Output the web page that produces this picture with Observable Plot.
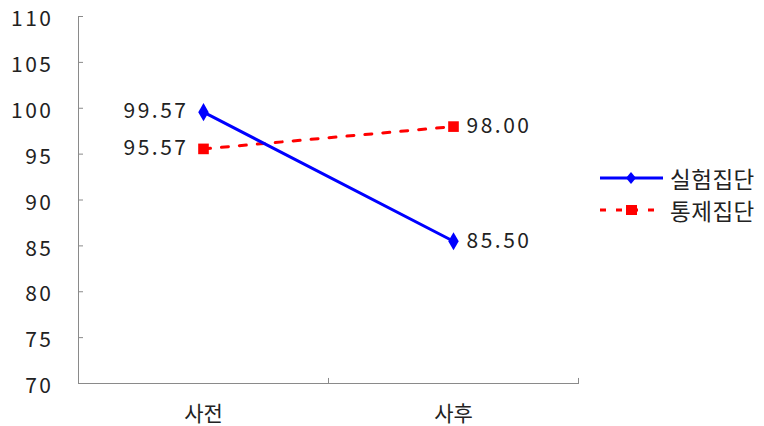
<!DOCTYPE html>
<html><head><meta charset="utf-8">
<script src="https://cdn.jsdelivr.net/npm/d3@7"></script>
<script src="https://cdn.jsdelivr.net/npm/@observablehq/plot@0.6"></script>
<style>
body{margin:0;background:#fff;}
#wrap{position:relative;width:764px;height:426px;font-family:"Noto Sans CJK KR","Noto Sans",sans-serif;}
#legend{position:absolute;left:596px;top:162px;font-size:22.5px;color:#222;letter-spacing:0.5px;}
.row{display:flex;align-items:center;height:32px;}
.row span{margin-left:4px;}
</style></head>
<body><div id="wrap"><div id="chart"></div><div id="legend"></div></div>
<script>
const categories = ["사전", "사후"];
const seriesNames = ["실험집단", "통제집단"];
const experimental = [99.57, 85.50];
const control = [95.57, 98.00];
const yTicks = [70, 75, 80, 85, 90, 95, 100, 105, 110];
const colors = ["#0000FF", "#FF0000"];

const data = [];
categories.forEach((c, i) => {
  data.push({cat: c, series: seriesNames[0], value: experimental[i]});
  data.push({cat: c, series: seriesNames[1], value: control[i]});
});
const exp = data.filter(d => d.series === seriesNames[0]);
const ctl = data.filter(d => d.series === seriesNames[1]);
const axisColor = "#8a8a8a";
const font = "\"Noto Sans CJK KR\", \"Noto Sans\", sans-serif";

const chart = Plot.plot({
  width: 764, height: 426,
  marginLeft: 78, marginRight: 186, marginTop: 16, marginBottom: 43,
  style: {fontFamily: font, fontSize: "21px", color: "#222", background: "#fff"},
  x: {type: "point", domain: categories, padding: 0.5, label: null},
  y: {domain: [70, 110], label: null},
  marks: [
    Plot.axisY({ticks: yTicks, tickSize: 0, tickPadding: 25, dy: 3, fontSize: 21, fill: "#222", label: null}),
    Plot.axisY({ticks: yTicks, tickSize: -5, text: null, stroke: axisColor, label: null}),
    Plot.axisX({tickSize: 0, tickPadding: 23, fontSize: 21, fill: "#222", label: null}),
    Plot.ruleX(categories, {x: d => d, dx: 125, y1: 70, y2: 70.55, stroke: axisColor}),
    Plot.frame({anchor: "left", stroke: axisColor}),
    Plot.frame({anchor: "bottom", stroke: axisColor}),
    Plot.line(ctl, {x: "cat", y: "value", stroke: colors[1], strokeWidth: 3, strokeDasharray: "7,11"}),
    Plot.line(exp, {x: "cat", y: "value", stroke: colors[0], strokeWidth: 3}),
    Plot.dot(ctl, {x: "cat", y: "value", symbol: "square", r: 6, fill: colors[1]}),
    Plot.dot(exp, {x: "cat", y: "value", symbol: "diamond", r: 5.5, fill: colors[0]}),
    Plot.text(data.filter(d => d.cat === categories[0]), {x: "cat", y: "value", text: d => d.value.toFixed(2), textAnchor: "end", dx: -15, dy: -1, fontSize: 21, fill: "#222", className: "num"}),
    Plot.text(data.filter(d => d.cat === categories[1]), {x: "cat", y: "value", text: d => d.value.toFixed(2), textAnchor: "start", dx: 13, fontSize: 21, fill: "#222", className: "num"})
  ]
});
chart.querySelectorAll("g[aria-label='y-axis tick label'] text").forEach(t => t.style.letterSpacing = "2.5px");
chart.querySelectorAll("g").forEach(g => { if ((g.getAttribute("class") || "").includes("num")) g.querySelectorAll("text").forEach(t => t.style.letterSpacing = "2.5px"); });
document.getElementById("chart").appendChild(chart);

const legend = document.getElementById("legend");
legend.innerHTML = `
<div class="row"><svg width="70" height="14"><line x1="4" y1="7" x2="67" y2="7" stroke="${colors[0]}" stroke-width="3"/><path d="M35,1 L40,7 L35,13 L30,7Z" fill="${colors[0]}"/></svg><span>${seriesNames[0]}</span></div>
<div class="row"><svg width="70" height="14"><line x1="4" y1="7" x2="67" y2="7" stroke="${colors[1]}" stroke-width="3" stroke-dasharray="6,10"/><rect x="30" y="2" width="11" height="10" fill="${colors[1]}"/></svg><span>${seriesNames[1]}</span></div>`;
</script></body></html>
